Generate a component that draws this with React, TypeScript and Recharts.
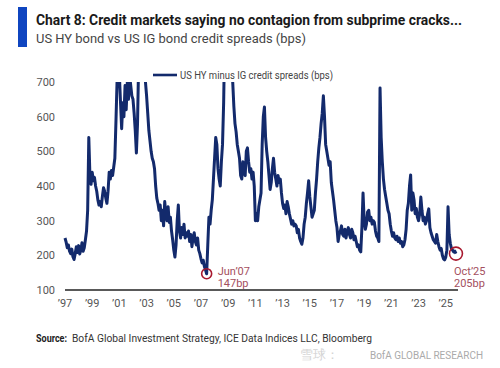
import { LineChart, Line, XAxis, YAxis, ReferenceDot } from "recharts"

const NAVY = "#132a6c"
const RED = "#a8182e"
const NOTE = "#a4505e"
const FONT = "'Liberation Sans Narrow', Roboto, sans-serif"

// HY minus IG spread (bps), one row per year, Jan..Dec, starting 1997
const FIRST_YEAR = 1997
const monthlySpreads: number[][] = [
  [250, 238, 222, 230, 212, 205, 218, 196, 188, 205, 225, 208],
  [228, 204, 215, 236, 212, 222, 245, 270, 330, 540, 430, 405],
  [440, 415, 425, 400, 385, 360, 345, 355, 340, 370, 395, 385],
  [365, 350, 385, 440, 420, 445, 430, 455, 480, 590, 710, 730],
  [720, 640, 565, 640, 600, 690, 620, 700, 650, 720, 690, 660],
  [650, 610, 560, 495, 580, 760, 850, 820, 860, 900, 760, 700],
  [660, 610, 560, 530, 500, 480, 470, 450, 400, 365, 350, 330],
  [345, 300, 330, 285, 355, 320, 300, 340, 295, 310, 270, 245],
  [215, 195, 230, 300, 345, 270, 250, 280, 260, 290, 250, 265],
  [255, 270, 240, 260, 225, 250, 265, 240, 230, 250, 215, 205],
  [190, 178, 186, 168, 158, 147, 230, 310, 290, 330, 360, 420],
  [480, 540, 520, 450, 420, 400, 470, 520, 640, 850, 1000, 1000],
  [1050, 1100, 1150, 1000, 700, 630, 580, 556, 520, 500, 480, 430],
  [420, 470, 440, 430, 500, 510, 470, 440, 450, 420, 440, 400],
  [300, 320, 300, 340, 360, 380, 520, 600, 628, 540, 500, 470],
  [430, 390, 410, 450, 480, 440, 420, 400, 430, 410, 420, 380],
  [350, 335, 345, 320, 355, 340, 320, 305, 290, 300, 285, 290],
  [285, 265, 275, 250, 240, 232, 250, 290, 310, 350, 380, 415],
  [370, 340, 310, 320, 330, 380, 420, 470, 510, 540, 580, 610],
  [660, 600, 520, 500, 480, 460, 470, 410, 385, 360, 330, 300],
  [280, 240, 260, 270, 285, 260, 255, 275, 250, 270, 280, 260],
  [250, 275, 265, 245, 255, 240, 225, 230, 215, 210, 280, 380],
  [300, 275, 290, 325, 330, 300, 310, 290, 300, 295, 270, 255],
  [250, 240, 683, 540, 470, 420, 390, 370, 350, 330, 320, 290],
  [270, 255, 265, 250, 245, 255, 240, 250, 235, 240, 225, 230],
  [245, 275, 330, 350, 400, 432, 330, 380, 360, 320, 335, 310],
  [300, 320, 368, 330, 300, 310, 290, 300, 320, 334, 280, 265],
  [255, 245, 240, 235, 260, 240, 225, 215, 220, 200, 190, 187],
  [195, 215, 340, 260, 235, 220, 215, 210, 212, 205],
]

const yearTicks = [1997, 1999, 2001, 2003, 2005, 2007, 2009, 2011, 2013, 2015, 2017, 2019, 2021, 2023, 2025]
const spreadTicks = [100, 200, 300, 400, 500, 600, 700]

const callouts = [
  { date: 2007 + 5 / 12, value: 147, month: "Jun’07", bp: "147bp", r: 5, dx: 11, dy: 1 },
  { date: 2025 + 9 / 12, value: 205, month: "Oct’25", bp: "205bp", r: 6.5, dx: -2, dy: 21 },
]

const data = monthlySpreads.flatMap((row, i) =>
  row.map((v, m) => ({ date: FIRST_YEAR + i + m / 12, spread: v }))
)

const calloutLabel = (c: typeof callouts[number]) => (props: any) => {
  const vb = props.viewBox || {}
  const cx = vb.x + (vb.width || 0) / 2
  const cy = vb.y + (vb.height || 0) / 2
  return (
    <g fontFamily={FONT} fontSize={11} fill={NOTE}>
      <text x={cx + c.dx} y={cy + c.dy}>{c.month}</text>
      <text x={cx + c.dx} y={cy + c.dy + 12}>{c.bp}</text>
    </g>
  )
}

export default function App() {
  return (
    <div style={{ position: "absolute", left: 0, top: 0, width: 500, height: 368, background: "#fff", overflow: "hidden" }}>
      <LineChart
        width={500}
        height={368}
        data={data}
        margin={{ top: 82, right: 42, left: 20, bottom: 48 }}
      >
        <XAxis
          dataKey="date"
          type="number"
          domain={[1997, 2025.9]}
          ticks={yearTicks}
          tickFormatter={(y: number) => "’" + String(y).slice(2)}
          height={30}
          tickSize={0}
          tickMargin={9}
          axisLine={{ stroke: "#222", strokeWidth: 1.5 }}
          tick={{ fill: "#555", fontSize: 11, fontFamily: FONT }}
        />
        <YAxis
          domain={[100, 700]}
          ticks={spreadTicks}
          allowDataOverflow
          width={45}
          tickSize={0}
          tickMargin={10}
          axisLine={false}
          tick={{ fill: "#555", fontSize: 11, fontFamily: FONT }}
        />
        <Line
          dataKey="spread"
          stroke={NAVY}
          strokeWidth={3}
          dot={false}
          isAnimationActive={false}
          strokeLinejoin="round"
        />
        {callouts.map((c) => (
          <ReferenceDot
            key={c.month}
            x={c.date}
            y={c.value}
            r={c.r}
            fill="none"
            stroke={RED}
            strokeWidth={1.6}
            label={calloutLabel(c)}
          />
        ))}
      </LineChart>

      <svg width={500} height={368} style={{ position: "absolute", left: 0, top: 0, pointerEvents: "none" }} fontFamily={FONT}>
        <rect x={18} y={7} width={9} height={40} fill="#0f45c0" />
        <text x={36} y={25} fontSize={14} fontWeight="bold" fill="#1a1a1a" textLength={426} lengthAdjust="spacingAndGlyphs">
          Chart 8: Credit markets saying no contagion from subprime cracks...
        </text>
        <text x={36} y={43} fontSize={12.5} fill="#444" textLength={270} lengthAdjust="spacingAndGlyphs">
          US HY bond vs US IG bond credit spreads (bps)
        </text>

        <line x1={153} x2={177} y1={75} y2={75} stroke={NAVY} strokeWidth={2.6} />
        <text x={180} y={78.5} fontSize={11} fill="#444" textLength={153} lengthAdjust="spacingAndGlyphs">
          US HY minus IG credit spreads (bps)
        </text>

        <text x={36} y={342} fontSize={11.5} fontWeight="bold" fill="#222" textLength={31} lengthAdjust="spacingAndGlyphs">
          Source:
        </text>
        <text x={72} y={342} fontSize={11.5} fill="#333" textLength={300} lengthAdjust="spacingAndGlyphs">
          BofA Global Investment Strategy, ICE Data Indices LLC, Bloomberg
        </text>

        <text x={300} y={359} fontSize={13} fill="#d4d4d4">雪球：</text>
        <text x={370} y={359} fontSize={10} fill="#aaa" textLength={113} lengthAdjust="spacingAndGlyphs">
          BofA GLOBAL RESEARCH
        </text>
      </svg>
    </div>
  )
}
